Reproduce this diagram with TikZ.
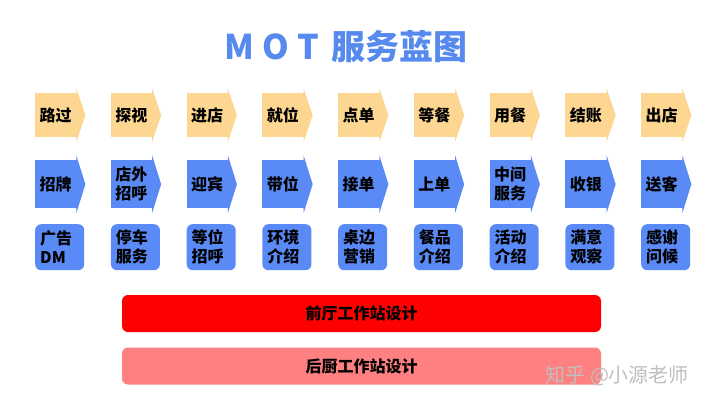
\documentclass[tikz,border=0pt]{standalone}
\usepackage{fontspec}
\setmainfont{Noto Sans CJK SC}
\usepackage{tikz}
\usetikzlibrary{positioning}
\definecolor{titleblue}{RGB}{86,138,238}
\definecolor{stagefill}{RGB}{253,214,145}
\definecolor{servfill}{RGB}{90,138,246}
\definecolor{backfill}{RGB}{255,128,128}
\tikzset{
  arrowhead/.style={append after command={\pgfextra{
      \fill[#1] ([xshift=-0.5pt]\tikzlastnode.north east) -- ++(0.5pt,0) -- ++(0,4.5pt)
        -- ([xshift=9pt]\tikzlastnode.east) -- ([yshift=-4.5pt]\tikzlastnode.south east)
        -- (\tikzlastnode.south east) -- ++(-0.5pt,0) -- cycle;}}},
  stepbox/.style={anchor=north west, fill=stagefill, minimum width=41pt, minimum height=44pt,
    inner sep=0pt, align=center, font=\bfseries\fontsize{16}{19}\selectfont, arrowhead=stagefill},
  servbox/.style={anchor=north west, fill=servfill, minimum width=41pt, minimum height=48pt,
    inner sep=0pt, align=center, font=\bfseries\fontsize{16}{19}\selectfont, arrowhead=servfill},
  touchbox/.style={anchor=north west, fill=servfill, rounded corners=6pt, minimum height=46pt,
    text width=39pt, inner xsep=5pt, inner ysep=0pt, align=left, font=\bfseries\fontsize{16}{19}\selectfont},
  bar/.style={rounded corners=6pt, minimum width=479pt, minimum height=37pt, font=\bfseries\fontsize{16}{19}\selectfont},
}

\begin{document}
\begin{tikzpicture}[x=1pt,y=-1pt]
  \useasboundingbox[fill=white] (0,0) rectangle (720,405);

  \node[text=titleblue, font=\bfseries\fontsize{34}{38}\selectfont] (Title) at (346,47) {M\hspace{8pt}O\hspace{8pt}T\hspace{12pt}服务蓝图};

  % customer steps
  \node[stepbox] (Step1) at (35,93) {路过};
  \node[stepbox] (Step2) at (110.75,93) {探视};
  \node[stepbox] (Step3) at (186.5,93) {进店};
  \node[stepbox] (Step4) at (262.25,93) {就位};
  \node[stepbox] (Step5) at (338,93) {点单};
  \node[stepbox] (Step6) at (413.75,93) {等餐};
  \node[stepbox] (Step7) at (489.5,93) {用餐};
  \node[stepbox] (Step8) at (565.25,93) {结账};
  \node[stepbox] (Step9) at (641,93) {出店};

  % service steps
  \node[servbox] (Serv1) at (35,160) {招牌};
  \node[servbox] (Serv2) at (110.75,160) {店外\\招呼};
  \node[servbox] (Serv3) at (186.5,160) {迎宾};
  \node[servbox] (Serv4) at (262.25,160) {带位};
  \node[servbox] (Serv5) at (338,160) {接单};
  \node[servbox] (Serv6) at (413.75,160) {上单};
  \node[servbox] (Serv7) at (489.5,160) {中间\\服务};
  \node[servbox] (Serv8) at (565.25,160) {收银};
  \node[servbox] (Serv9) at (641,160) {送客};

  % touch points
  \node[touchbox] (Touch1) at (35,224) {广告\\DM};
  \node[touchbox] (Touch2) at (110.75,224) {停车\\服务};
  \node[touchbox] (Touch3) at (186.5,224) {等位\\招呼};
  \node[touchbox] (Touch4) at (262.25,224) {环境\\介绍};
  \node[touchbox] (Touch5) at (338,224) {桌边\\营销};
  \node[touchbox] (Touch6) at (413.75,224) {餐品\\介绍};
  \node[touchbox] (Touch7) at (489.5,224) {活动\\介绍};
  \node[touchbox] (Touch8) at (565.25,224) {满意\\观察};
  \node[touchbox] (Touch9) at (641,224) {感谢\\问候};

  \node[bar, fill=red] (Front) at (361.5,313.5) {前厅工作站设计};
  \node[bar, fill=backfill] (Back) at (361.5,366) {后厨工作站设计};

  \node[anchor=west, text=gray!50, font=\fontsize{20}{24}\selectfont] (Mark) at (542,376) {知乎 @小源老师};
\end{tikzpicture}
\end{document}
